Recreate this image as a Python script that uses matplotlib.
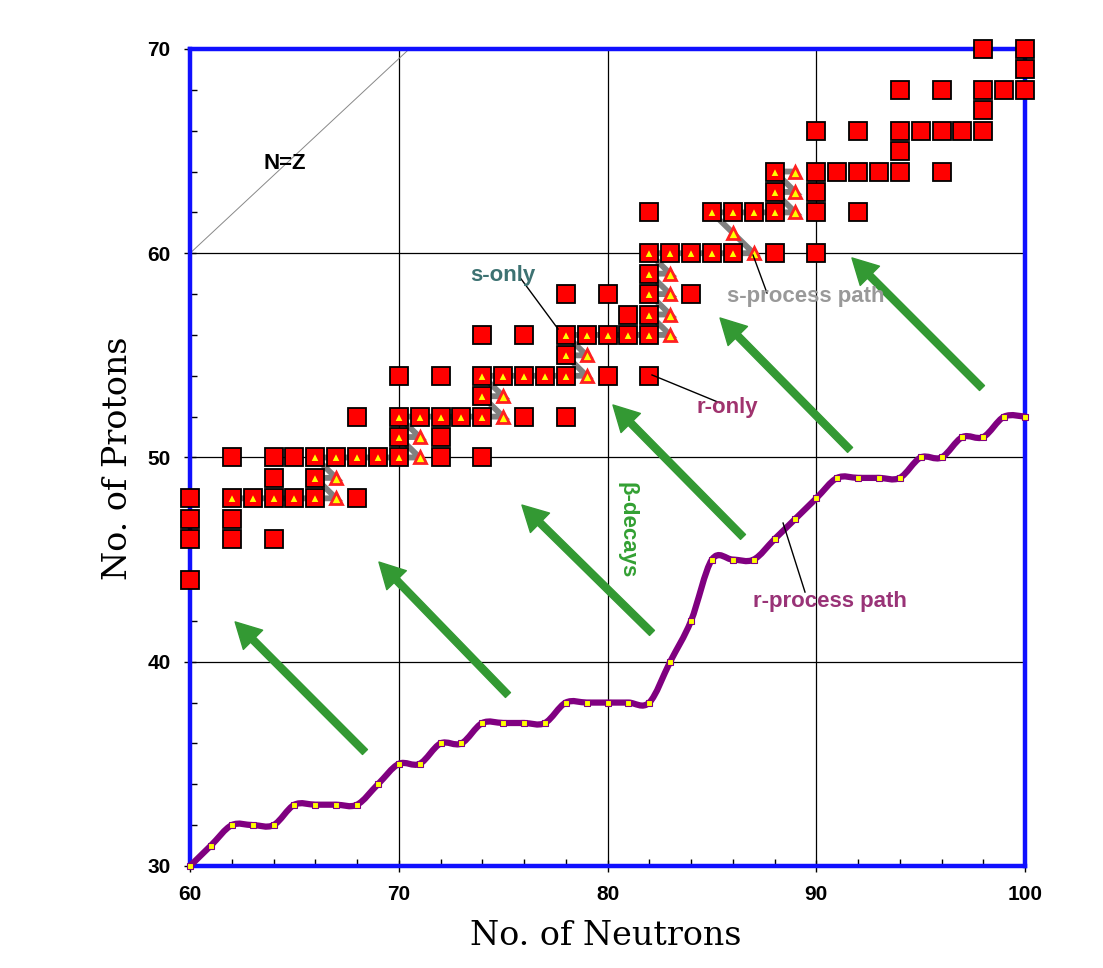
import numpy as np
import matplotlib.pyplot as plt
from matplotlib.path import Path
from matplotlib.patches import PathPatch, FancyArrowPatch
from matplotlib.ticker import MultipleLocator

# stable nuclei not on the s-process path (N, Z)
plain_n = [60, 60, 62, 64, 60, 62, 60, 68, 64, 62, 64, 65, 72, 74, 72, 68, 76, 78,
           70, 72, 80, 82, 74, 76, 81, 78, 80, 84, 88, 90, 82, 90, 92, 90,
           90, 91, 92, 93, 94, 96, 94, 90, 92, 94, 95, 96, 97, 98, 98,
           94, 96, 98, 99, 100, 100, 98, 100]
plain_z = [44, 46, 46, 46, 47, 47, 48, 48, 49, 50, 50, 50, 50, 50, 51, 52, 52, 52,
           54, 54, 54, 54, 56, 56, 57, 58, 58, 58, 60, 60, 62, 62, 62, 63,
           64, 64, 64, 64, 64, 64, 65, 66, 66, 66, 66, 66, 66, 66, 67,
           68, 68, 68, 68, 68, 69, 70, 70]

# stable nuclei on the s-process path
s_n = [62, 63, 64, 65, 66, 66, 66, 67, 68, 69, 70, 70, 70, 71, 72, 73, 74, 74,
       74, 75, 76, 77, 78, 78, 78, 79, 80, 81, 82, 82, 82, 82, 82, 83, 84, 85, 86,
       85, 86, 87, 88, 88, 88]
s_z = [48, 48, 48, 48, 48, 49, 50, 50, 50, 50, 50, 51, 52, 52, 52, 52, 52, 53,
       54, 54, 54, 54, 54, 55, 56, 56, 56, 56, 56, 57, 58, 59, 60, 60, 60, 60, 60,
       62, 62, 62, 62, 63, 64]

# unstable branching points on the path
branch_n = [67, 67, 71, 71, 75, 75, 79, 79, 83, 83, 83, 83, 87, 86, 89, 89, 89]
branch_z = [48, 49, 50, 51, 52, 53, 54, 55, 56, 57, 58, 59, 60, 61, 62, 63, 64]

# s-process path (neutron captures and beta decays)
spath_n = [62, 67, 66, 67, 66, 71, 70, 71, 70, 75, 74, 75, 74, 79, 78, 79, 78, 83,
           82, 83, 82, 83, 82, 83, 82, 87, 86, 85, 89, 88, 89, 88, 89]
spath_z = [48, 48, 49, 49, 50, 50, 51, 51, 52, 52, 53, 53, 54, 54, 55, 55, 56, 56,
           57, 57, 58, 58, 59, 59, 60, 60, 61, 62, 62, 63, 63, 64, 64]

# r-process path
r_n = list(range(60, 101))
r_z = [30, 31, 32, 32, 32, 33, 33, 33, 33, 34, 35, 35, 36, 36, 37, 37, 37, 37,
       38, 38, 38, 38, 38, 40, 42, 45, 45, 45, 46, 47, 48, 49, 49, 49, 49, 50,
       50, 51, 51, 52, 52]

# beta-decay arrows
arrow_tail_n = [68.38, 75.23, 82.13, 86.49, 91.62, 97.94]
arrow_tail_z = [35.58, 38.37, 41.41, 46.11, 50.37, 53.40]
arrow_head_n = [62.16, 69.05, 75.90, 80.26, 85.39, 91.71]
arrow_head_z = [41.95, 44.88, 47.67, 52.57, 56.83, 59.77]

# N=Z guide line
nz_n = [60, 70.5]
nz_z = [60, 70]

fig = plt.figure(figsize=(11.03, 9.68), dpi=100)
ax = fig.add_axes([0.1723, 0.1054, 0.757, 0.844])
ax.set_xlim(60, 100)
ax.set_ylim(30, 70)

ax.grid(True, which='major', color='black', lw=0.9)
ax.set_axisbelow(True)

ax.plot(nz_n, nz_z, color='#888888', lw=0.7, zorder=2)

# s-process path under the squares
ax.plot(spath_n, spath_z, color='#808080', lw=4.2, solid_joinstyle='miter', zorder=3)

ax.plot(plain_n, plain_z, 's', ms=13.5, mfc='#ff0000', mec='black', mew=1.3,
        zorder=5, clip_on=False)
ax.plot(s_n, s_z, 's', ms=13.5, mfc='#ff0000', mec='black', mew=1.3,
        zorder=5, clip_on=False)
ax.plot(s_n, s_z, '^', ms=7, mfc='#ffff00', mec='#ff0000', mew=1.5, zorder=6)
ax.plot(branch_n, branch_z, '^', ms=8, mfc='#ffff00', mec='#ff2020', mew=2, zorder=6)

# smoothed r-process path (Catmull-Rom through the points)
pts = np.column_stack([r_n, r_z]).astype(float)
ext = np.vstack([pts[0], pts, pts[-1]])
verts = [pts[0]]
codes = [Path.MOVETO]
for i in range(len(pts) - 1):
    p0, p1, p2, p3 = ext[i], ext[i + 1], ext[i + 2], ext[i + 3]
    verts += [p1 + (p2 - p0) / 6, p2 - (p3 - p1) / 6, p2]
    codes += [Path.CURVE4] * 3
ax.add_patch(PathPatch(Path(verts, codes), fill=False, ec='#800080', lw=4.5,
                       capstyle='round', joinstyle='round', zorder=7, clip_on=False))
ax.plot(r_n, r_z, 's', ms=4.5, mfc='#ffff00', mec='#800080', mew=0.8,
        zorder=8, clip_on=False)

for tn, tz, hn, hz in zip(arrow_tail_n, arrow_tail_z, arrow_head_n, arrow_head_z):
    ax.add_patch(FancyArrowPatch((tn, tz), (hn, hz),
                                 arrowstyle='simple,head_width=1.4,head_length=1.3,tail_width=0.36',
                                 mutation_scale=14, color='#339933', shrinkA=0, shrinkB=0,
                                 zorder=4))

lab = dict(fontsize=16, fontweight='bold', family='Liberation Sans', ha='center', va='center')
ax.text(64.55, 64.37, 'N=Z', color='black', zorder=9, **lab)
ax.text(74.99, 58.93, 's-only', color='#3d7272', zorder=9, **lab)
ax.plot([75.86, 77.63], [58.74, 56.29], color='black', lw=1, zorder=6)
ax.text(85.72, 52.47, 'r-only', color='#a0336e', zorder=9, **lab)
ax.plot([82.13, 85.39], [54.04, 52.67], color='black', lw=1, zorder=6)
ax.text(89.51, 57.86, 's-process path', color='#999999', zorder=9, **lab)
ax.plot([86.97, 87.64], [59.91, 58.05], color='black', lw=1, zorder=7)
ax.text(90.66, 42.97, 'r-process path', color='#993377', zorder=9, **lab)
ax.plot([88.41, 89.46], [46.79, 43.41], color='black', lw=1, zorder=9)
ax.text(80.93, 46.45, 'β-decays', color='#33a033', rotation=-90, zorder=9, **lab)

ax.set_xticks(range(60, 101, 10))
ax.set_yticks(range(30, 71, 10))
ax.xaxis.set_minor_locator(MultipleLocator(2))
ax.yaxis.set_minor_locator(MultipleLocator(2))
ax.tick_params(which='major', direction='inout', length=8, width=1, pad=10, labelsize=15)
ax.tick_params(which='minor', direction='in', length=5, width=1)
for t in ax.get_xticklabels() + ax.get_yticklabels():
    t.set_fontweight('bold')
    t.set_family('Liberation Sans')

for s in ax.spines.values():
    s.set_color('#1010ff')
    s.set_linewidth(3.2)

ax.set_xlabel('No. of Neutrons', family='DejaVu Serif', fontsize=24)
ax.set_ylabel('No. of Protons', family='DejaVu Serif', fontsize=24)
ax.xaxis.set_label_coords(0.498, -0.0857)
ax.yaxis.set_label_coords(-0.0862, 0.4994)
ax.xaxis.label.set_verticalalignment('center')
ax.yaxis.label.set_verticalalignment('center')

fig.savefig('out.png', dpi=100, facecolor='white')
